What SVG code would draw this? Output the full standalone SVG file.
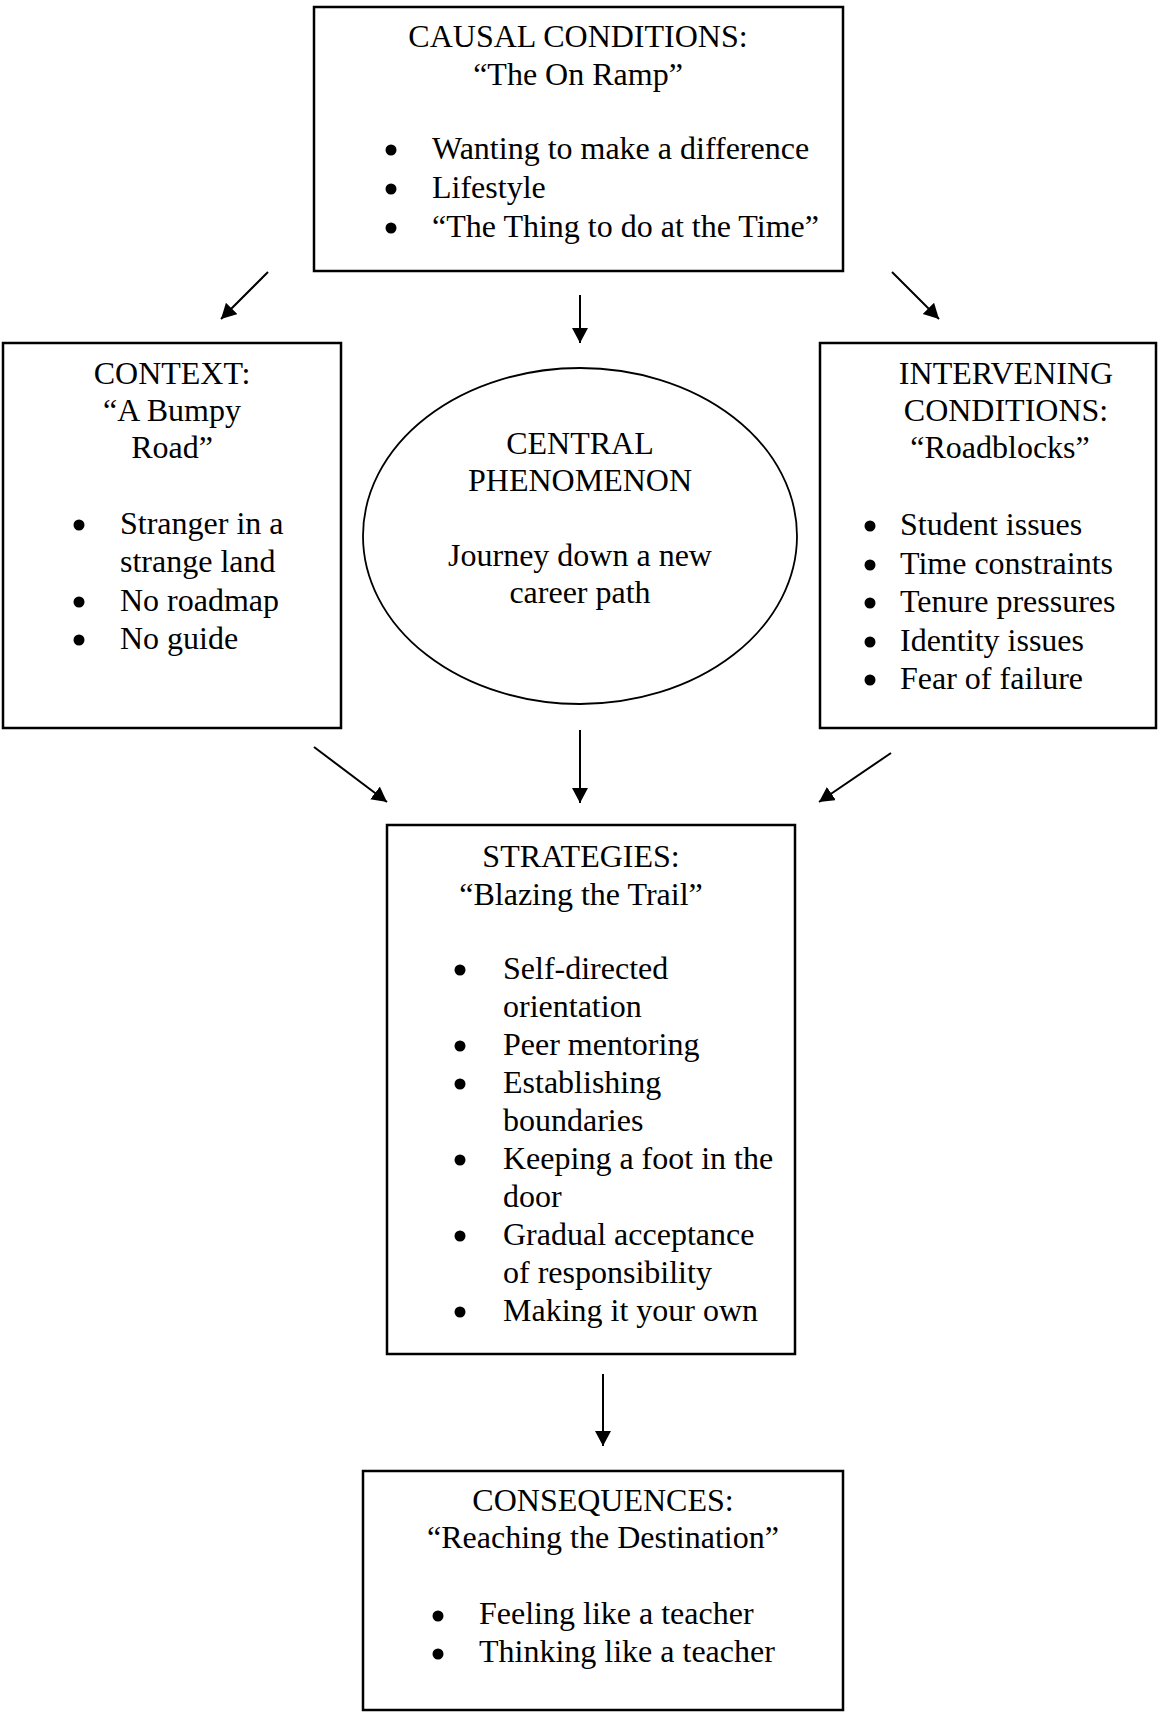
<svg xmlns="http://www.w3.org/2000/svg" width="1160" height="1712" viewBox="0 0 1160 1712">
<style>
text{font-family:"Liberation Serif","Times New Roman",serif;font-size:32px;fill:#000}
.c{text-anchor:middle}
.box{fill:#fff;stroke:#000;stroke-width:2.5}
.ell{fill:#fff;stroke:#000;stroke-width:1.8}
.dot{fill:#000}
.conn line{stroke:#000;stroke-width:2}
</style>
<defs>
<marker id="ah" markerUnits="userSpaceOnUse" markerWidth="18" markerHeight="18" refX="15" refY="8" orient="auto">
<path d="M0,0 L15,8 L0,16 z" fill="#000"/>
</marker>
</defs>
<rect width="1160" height="1712" fill="#fff"/>
<g id="causal">
<rect class="box" x="314" y="7" width="529" height="264"/>
<text class="c" x="578" y="47">CAUSAL CONDITIONS:</text>
<text class="c" x="578" y="85">“The On Ramp”</text>
<circle class="dot" cx="391" cy="150" r="5.5"/>
<text x="432" y="159">Wanting to make a difference</text>
<circle class="dot" cx="391" cy="189" r="5.5"/>
<text x="432" y="198">Lifestyle</text>
<circle class="dot" cx="391" cy="228" r="5.5"/>
<text x="432" y="237">“The Thing to do at the Time”</text>
</g>
<g id="context">
<rect class="box" x="3" y="343" width="338" height="385"/>
<text class="c" x="172" y="384">CONTEXT:</text>
<text class="c" x="172" y="421">“A Bumpy</text>
<text class="c" x="172" y="458">Road”</text>
<circle class="dot" cx="79" cy="525" r="5.5"/>
<text x="120" y="534">Stranger in a</text>
<text x="120" y="572">strange land</text>
<circle class="dot" cx="79" cy="602" r="5.5"/>
<text x="120" y="611">No roadmap</text>
<circle class="dot" cx="79" cy="640" r="5.5"/>
<text x="120" y="649">No guide</text>
</g>
<g id="central">
<ellipse class="ell" cx="580" cy="536" rx="217" ry="168"/>
<text class="c" x="580" y="454">CENTRAL</text>
<text class="c" x="580" y="491">PHENOMENON</text>
<text class="c" x="580" y="566">Journey down a new</text>
<text class="c" x="580" y="603">career path</text>
</g>
<g id="intervening">
<rect class="box" x="820" y="343" width="336" height="385"/>
<text class="c" x="1006" y="384">INTERVENING</text>
<text class="c" x="1006" y="421">CONDITIONS:</text>
<text class="c" x="1000" y="458">“Roadblocks”</text>
<circle class="dot" cx="870" cy="526" r="5.5"/>
<text x="900" y="535">Student issues</text>
<circle class="dot" cx="870" cy="565" r="5.5"/>
<text x="900" y="574">Time constraints</text>
<circle class="dot" cx="870" cy="603" r="5.5"/>
<text x="900" y="612">Tenure pressures</text>
<circle class="dot" cx="870" cy="642" r="5.5"/>
<text x="900" y="651">Identity issues</text>
<circle class="dot" cx="870" cy="680" r="5.5"/>
<text x="900" y="689">Fear of failure</text>
</g>
<g id="strategies">
<rect class="box" x="387" y="825" width="408" height="529"/>
<text class="c" x="581" y="867">STRATEGIES:</text>
<text class="c" x="581" y="905">“Blazing the Trail”</text>
<circle class="dot" cx="460" cy="970" r="5.5"/>
<text x="503" y="979">Self-directed</text>
<text x="503" y="1017">orientation</text>
<circle class="dot" cx="460" cy="1046" r="5.5"/>
<text x="503" y="1055">Peer mentoring</text>
<circle class="dot" cx="460" cy="1084" r="5.5"/>
<text x="503" y="1093">Establishing</text>
<text x="503" y="1131">boundaries</text>
<circle class="dot" cx="460" cy="1160" r="5.5"/>
<text x="503" y="1169">Keeping a foot in the</text>
<text x="503" y="1207">door</text>
<circle class="dot" cx="460" cy="1236" r="5.5"/>
<text x="503" y="1245">Gradual acceptance</text>
<text x="503" y="1283">of responsibility</text>
<circle class="dot" cx="460" cy="1312" r="5.5"/>
<text x="503" y="1321">Making it your own</text>
</g>
<g id="consequences">
<rect class="box" x="363" y="1471" width="480" height="239"/>
<text class="c" x="603" y="1511">CONSEQUENCES:</text>
<text class="c" x="603" y="1548">“Reaching the Destination”</text>
<circle class="dot" cx="438" cy="1616" r="5.5"/>
<text x="479" y="1624">Feeling like a teacher</text>
<circle class="dot" cx="438" cy="1654" r="5.5"/>
<text x="479" y="1662">Thinking like a teacher</text>
</g>
<g id="connectors" class="conn">
<line x1="268" y1="272" x2="221" y2="319" marker-end="url(#ah)"/>
<line x1="580" y1="295" x2="580" y2="343" marker-end="url(#ah)"/>
<line x1="892" y1="272" x2="939" y2="319" marker-end="url(#ah)"/>
<line x1="314" y1="747" x2="387" y2="802" marker-end="url(#ah)"/>
<line x1="580" y1="730" x2="580" y2="803" marker-end="url(#ah)"/>
<line x1="891" y1="753" x2="819" y2="802" marker-end="url(#ah)"/>
<line x1="603" y1="1374" x2="603" y2="1446" marker-end="url(#ah)"/>
</g>
</svg>
